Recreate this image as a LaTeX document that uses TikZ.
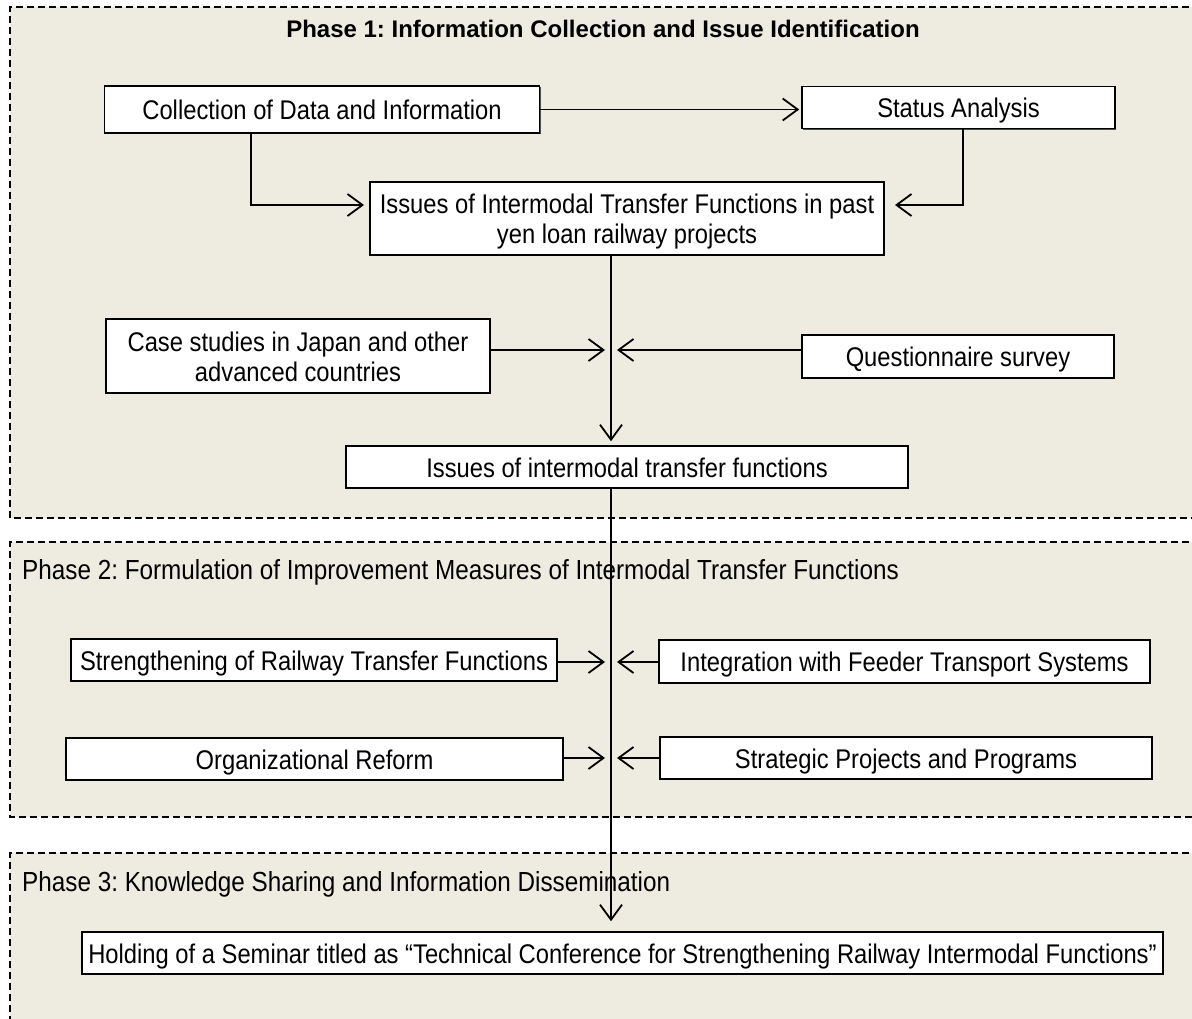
\documentclass[tikz,border=0pt]{standalone}
\usepackage{fontspec}
\setmainfont{Liberation Sans}
\newfontfamily\narrowfont[FakeStretch=0.88]{Liberation Sans}
\frenchspacing
\newcommand{\lstrut}{\rule[-5pt]{0pt}{25pt}}
\usetikzlibrary{arrows.meta,shadows}
\definecolor{panelbg}{RGB}{238,236,225}
\begin{document}
\begin{tikzpicture}[x=1pt,y=-1pt,
  pborder/.style={draw=black,line width=2pt,dash pattern=on 7pt off 4pt},
  box/.style={draw=black,line width=1.6pt,fill=white,inner sep=0pt,align=center,
    text depth=-3pt,
    font=\narrowfont\fontsize{27}{30}\selectfont,
    drop shadow={shadow xshift=1.2pt,shadow yshift=-1.2pt,fill=black!70,opacity=1}},
  conn/.style={draw=black,line width=1.8pt,-{Straight Barb[length=15pt,width=22pt]}},
  trunk/.style={draw=black,line width=1.4pt,-{Straight Barb[length=15pt,width=22pt,line width=1.8pt]}},
  ptitle/.style={font=\narrowfont\fontsize{27.6}{30}\selectfont,inner sep=0pt,anchor=west}
]
\useasboundingbox (0,0) rectangle (1192,1019);
\clip (0,0) rectangle (1192,1019);
\fill[white] (0,0) rectangle (1192,1019);
% panels
\fill[panelbg] (10,7) rectangle (1200,518);
\draw[pborder] (1200,7) -- (10,7) -- (10,518) -- (1200,518);
\fill[panelbg] (10,542) rectangle (1200,817);
\draw[pborder] (1200,542) -- (10,542) -- (10,817) -- (1200,817);
\fill[panelbg] (10,853) rectangle (1200,1040);
\draw[pborder] (1200,853) -- (10,853) -- (10,1040);
% titles
\node[font=\bfseries\fontsize{24}{30}\selectfont,inner sep=0pt] (t1) at (603,29) {Phase 1: Information Collection and Issue Identification};
\node[ptitle] (t2) at (22,572) {Phase 2: Formulation of Improvement Measures of Intermodal Transfer Functions};
\node[ptitle] (t3) at (22,884) {Phase 3: Knowledge Sharing and Information Dissemination};
% phase 1 nodes
\node[box,minimum width=435,minimum height=47] (coll) at (322,109.5) {\lstrut Collection of Data and Information};
\node[box,minimum width=313,minimum height=42] (stat) at (958.5,107.5) {\lstrut Status Analysis};
\node[box,minimum width=514,minimum height=73] (past) at (627,218.5) {\lstrut Issues of Intermodal Transfer Functions in past\\\lstrut yen loan railway projects};
\node[box,minimum width=384,minimum height=74] (case) at (298,356) {\lstrut Case studies in Japan and other\\\lstrut advanced countries};
\node[box,minimum width=312,minimum height=43] (quest) at (958,356.5) {\lstrut Questionnaire survey};
\node[box,minimum width=562,minimum height=42] (iss) at (627,467) {\lstrut Issues of intermodal transfer functions};
% phase 2 nodes
\node[box,minimum width=486,minimum height=42] (str) at (314,660) {\lstrut Strengthening of Railway Transfer Functions};
\node[box,minimum width=491,minimum height=43] (integ) at (904.5,661.5) {\lstrut Integration with Feeder Transport Systems};
\node[box,minimum width=497,minimum height=42] (org) at (314.5,759) {\lstrut Organizational Reform};
\node[box,minimum width=492,minimum height=42] (strat) at (906,758) {\lstrut Strategic Projects and Programs};
% phase 3 node
\node[box,minimum width=1081,minimum height=42] (sem) at (622.5,953) {\lstrut Holding of a Seminar titled as “Technical Conference for Strengthening Railway Intermodal Functions”};
% helper coordinates
\coordinate (T) at (611,0);
\coordinate (eL) at (251,0);
\coordinate (eR) at (963,0);
\coordinate (tipL) at (364,205);
\coordinate (tipR) at (895,205);
\coordinate (tC) at (605,350);
\coordinate (tQ) at (617,350);
\coordinate (tS) at (605,662);
\coordinate (tI) at (617,662);
\coordinate (tO) at (605,758);
\coordinate (tP) at (617,758);
% connectors
\draw[conn,shorten >=2pt] (coll.east) -- (stat.west |- coll.east);
\draw[conn] (coll.south -| eL) |- (tipL);
\draw[conn] (stat.south -| eR) |- (tipR);
\draw[trunk,shorten >=4pt] (past.south -| T) -- (iss.north -| T);
\draw[conn] (case.east |- tC) -- (tC);
\draw[conn] (quest.west |- tQ) -- (tQ);
\draw[trunk,shorten >=10pt] (iss.south -| T) -- (sem.north -| T);
\draw[conn] (str.east |- tS) -- (tS);
\draw[conn] (integ.west |- tI) -- (tI);
\draw[conn] (org.east |- tO) -- (tO);
\draw[conn] (strat.west |- tP) -- (tP);
\end{tikzpicture}
\end{document}
